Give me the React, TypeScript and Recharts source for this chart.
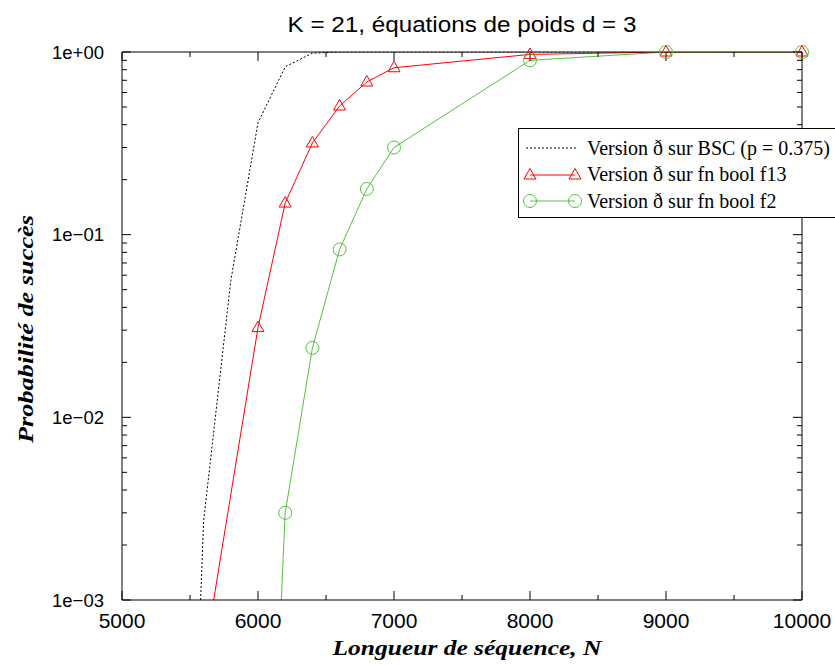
import { LineChart, Line, XAxis, YAxis, Legend } from 'recharts';

// N values and success probabilities
const nBSC = [5400, 5600, 5800, 6000, 6200, 6400, 6600, 6800, 7000, 8000, 9000, 10000];
const pBSC = [3e-7, 0.0027, 0.056, 0.41, 0.83, 0.985, 1, 1, 1, 1, 1, 1];

const nF13 = [5600, 6000, 6200, 6400, 6600, 6800, 7000, 8000, 9000, 10000];
const pF13 = [4.6e-4, 0.031, 0.149, 0.318, 0.506, 0.685, 0.82, 0.97, 1, 1];

const nF2 = [6000, 6200, 6400, 6600, 6800, 7000, 8000, 9000, 10000];
const pF2 = [1.4e-6, 0.003, 0.024, 0.083, 0.178, 0.3, 0.9, 1, 1];

const seriesNames = [
  'Version ð sur BSC (p = 0.375)',
  'Version ð sur fn bool f13',
  'Version ð sur fn bool f2',
];

const xMajor = [5000, 6000, 7000, 8000, 9000, 10000];
const xMinor = [5500, 6500, 7500, 8500, 9500];
const yMajor = [0.001, 0.01, 0.1, 1];
const yMinor = [0.001, 0.01, 0.1].flatMap((d) => [2, 3, 4, 5, 6, 7, 8, 9].map((k) => k * d));

const RED = '#ff0000';
const GREEN = '#52c23a';
const SANS = '"Liberation Sans", Arial, sans-serif';
const SERIF = '"Liberation Serif", "Times New Roman", serif';

const rows = (n: number[], p: number[]) => n.map((x, i) => ({ n: x, p: p[i] }));
const bscData = rows(nBSC, pBSC);
const f13Data = rows(nF13, pF13);
const f2Data = rows(nF2, pF2);
// markers only where the point falls inside the plot
const visible = (d: { n: number; p: number }[]) => d.filter((r) => r.p >= 0.001);

const expLabel = (v: number) => {
  const e = Math.round(Math.log10(v));
  return `1e${e < 0 ? '−' : '+'}${String(Math.abs(e)).padStart(2, '0')}`;
};
const blank = () => '';

const Triangle = (props: any) => {
  const { cx, cy, index } = props;
  if (cx == null || cy == null) return <g key={`t${index}`} />;
  return (
    <path
      key={`t${index}`}
      d={`M${cx},${cy - 6.5}L${cx + 6},${cy + 4}L${cx - 6},${cy + 4}Z`}
      fill="none"
      stroke={RED}
      strokeWidth={1}
    />
  );
};

const Ring = (props: any) => {
  const { cx, cy, index } = props;
  if (cx == null || cy == null) return <g key={`c${index}`} />;
  return <circle key={`c${index}`} cx={cx} cy={cy} r={6.5} fill="none" stroke={GREEN} strokeWidth={1} />;
};

const LegendBox = () => (
  <div
    style={{
      border: '1px solid #000',
      background: '#fff',
      width: 330,
      height: 90,
      boxSizing: 'border-box',
      paddingTop: 6,
      fontFamily: SERIF,
      fontSize: 20,
      color: '#000',
    }}
  >
    {seriesNames.map((name, i) => (
      <div key={name} style={{ display: 'flex', alignItems: 'center', height: 26.5 }}>
        <svg width={68} height={26} style={{ flex: 'none' }}>
          {i === 0 && <line x1={7} y1={13} x2={59} y2={13} stroke="#000" strokeDasharray="2 2" />}
          {i === 1 && (
            <g stroke={RED} fill="none">
              <line x1={11} y1={13} x2={56} y2={13} />
              <path d="M11,6.5L17,17L5,17Z" />
              <path d="M56,6.5L62,17L50,17Z" />
            </g>
          )}
          {i === 2 && (
            <g stroke={GREEN} fill="none">
              <line x1={11} y1={13} x2={56} y2={13} />
              <circle cx={11} cy={13} r={6.5} />
              <circle cx={56} cy={13} r={6.5} />
            </g>
          )}
        </svg>
        <span style={{ whiteSpace: 'nowrap' }}>{name}</span>
      </div>
    ))}
  </div>
);

export default function App() {
  const xBase = { type: 'number' as const, dataKey: 'n', domain: [5000, 10000], stroke: '#000' };
  const yBase = { type: 'number' as const, dataKey: 'p', scale: 'log' as const, domain: [0.001, 1], stroke: '#000' };
  // mirrored tick-only axes take (almost) no room so they all sit on the frame
  const xIn = { ...xBase, allowDataOverflow: true, mirror: true, height: 0.01, tickFormatter: blank };
  const yIn = { ...yBase, allowDataOverflow: true, mirror: true, width: 0.01, tickFormatter: blank };

  return (
    <div style={{ position: 'absolute', left: 0, top: 0, width: 835, height: 665, overflow: 'hidden', background: '#fff' }}>
      <LineChart width={835} height={665} margin={{ top: 52, right: 33, bottom: 0, left: 0 }}>
        {/* labelled axes (markers live here, unclipped) */}
        <XAxis
          {...xBase}
          xAxisId="x"
          ticks={xMajor}
          tickLine={false}
          tickSize={6}
          tickMargin={7}
          height={65}
          tick={{ fontSize: 21, fill: '#000', fontFamily: SANS }}
        />
        <YAxis
          {...yBase}
          yAxisId="y"
          ticks={yMajor}
          tickFormatter={expLabel}
          tickLine={false}
          tickSize={6}
          tickMargin={12}
          width={122}
          tick={{ fontSize: 18.5, fill: '#000', fontFamily: SANS }}
        />
        {/* inward tick marks, gnuplot style */}
        <XAxis {...xIn} xAxisId="xl" axisLine={false} ticks={xMajor} tickSize={9} />
        <XAxis {...xIn} xAxisId="xm" axisLine={false} ticks={xMinor} tickSize={5} />
        <XAxis {...xIn} xAxisId="xt" orientation="top" ticks={xMajor} tickSize={9} />
        <XAxis {...xIn} xAxisId="xtm" orientation="top" axisLine={false} ticks={xMinor} tickSize={5} />
        <YAxis {...yIn} yAxisId="yl" axisLine={false} ticks={yMajor} tickSize={9} />
        <YAxis {...yIn} yAxisId="ym" axisLine={false} ticks={yMinor} tickSize={5} />
        <YAxis {...yIn} yAxisId="yr" orientation="right" ticks={yMajor} tickSize={9} />
        <YAxis {...yIn} yAxisId="yrm" orientation="right" axisLine={false} ticks={yMinor} tickSize={5} />

        <Legend layout="horizontal" verticalAlign="middle" wrapperStyle={{ left: 518, top: 128, width: 330, height: 90 }} content={LegendBox} />

        {/* curves, clipped to the plot area */}
        <Line data={bscData} xAxisId="xl" yAxisId="yl" dataKey="p" stroke="#000" strokeWidth={1} strokeDasharray="2 2" dot={false} activeDot={false} isAnimationActive={false} />
        <Line data={f13Data} xAxisId="xl" yAxisId="yl" dataKey="p" stroke={RED} strokeWidth={1} dot={false} activeDot={false} isAnimationActive={false} />
        <Line data={f2Data} xAxisId="xl" yAxisId="yl" dataKey="p" stroke={GREEN} strokeWidth={1} dot={false} activeDot={false} isAnimationActive={false} />

        {/* point markers */}
        <Line data={visible(f13Data)} xAxisId="x" yAxisId="y" dataKey="p" stroke="none" dot={Triangle} activeDot={false} legendType="none" isAnimationActive={false} />
        <Line data={visible(f2Data)} xAxisId="x" yAxisId="y" dataKey="p" stroke="none" dot={Ring} activeDot={false} legendType="none" isAnimationActive={false} />

        <text x={462} y={32} textAnchor="middle" fontSize={22} fontFamily={SANS} fill="#000" textLength={349} lengthAdjust="spacingAndGlyphs">
          K = 21, équations de poids d = 3
        </text>
        <text x={467} y={655} textAnchor="middle" fontSize={21} fontFamily={SERIF} fontWeight="bold" fontStyle="italic" fill="#000" textLength={269} lengthAdjust="spacingAndGlyphs">
          Longueur de séquence, N
        </text>
        <text x={33} y={329} transform="rotate(-90 33 329)" textAnchor="middle" fontSize={21} fontFamily={SERIF} fontWeight="bold" fontStyle="italic" fill="#000" textLength={228} lengthAdjust="spacingAndGlyphs">
          Probabilité de succès
        </text>
      </LineChart>
    </div>
  );
}
